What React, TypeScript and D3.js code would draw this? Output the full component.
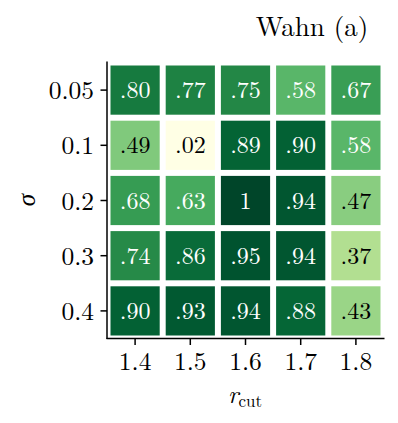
import React from "react";
import * as d3 from "d3";

const rcutLabels = ["1.4", "1.5", "1.6", "1.7", "1.8"];
const sigmaLabels = ["0.05", "0.1", "0.2", "0.3", "0.4"];
const values: number[][] = [
  [0.80, 0.77, 0.75, 0.58, 0.67],
  [0.49, 0.02, 0.89, 0.90, 0.58],
  [0.68, 0.63, 1.0, 0.94, 0.47],
  [0.74, 0.86, 0.95, 0.94, 0.37],
  [0.90, 0.93, 0.94, 0.88, 0.43],
];
const title = "Wahn (a)";

const W = 398;
const H = 423;
const FONT = "'Latin Modern Roman', 'CMU Serif', 'Liberation Serif', serif";

function fmt(v: number): string {
  if (v >= 1) return "1";
  return d3.format(".2f")(v).replace(/^0/, "");
}

export default function App() {
  const x = d3.scaleBand<string>().domain(rcutLabels).range([107.5, 383.5]);
  const y = d3.scaleBand<string>().domain(sigmaLabels).range([62.5, 338.5]);
  const flat = values.flat();
  const color = d3
    .scaleSequential(d3.interpolateYlGn)
    .domain([d3.min(flat) as number, d3.max(flat) as number]);
  const inset = 3;
  const bw = x.bandwidth();
  const bh = y.bandwidth();
  return (
    <svg
      width={W}
      height={H}
      style={{ position: "absolute", left: 0, top: 0, background: "#fff" }}
      fontFamily={FONT}
    >
      <rect width={W} height={H} fill="#fff" />
      {sigmaLabels.map((s, i) =>
        rcutLabels.map((r, j) => {
          const v = values[i][j];
          const cx = (x(r) as number) + bw / 2;
          const cy = (y(s) as number) + bh / 2;
          return (
            <g key={s + r}>
              <rect
                x={(x(r) as number) + inset}
                y={(y(s) as number) + inset}
                width={bw - 2 * inset}
                height={bh - 2 * inset}
                fill={color(v)}
              />
              <text
                x={cx}
                y={cy + 8}
                textAnchor="middle"
                fontSize={24}
                fill={v > 0.5 ? "#fff" : "#000"}
              >
                {fmt(v)}
              </text>
            </g>
          );
        })
      )}
      {/* spines */}
      <line x1={107} x2={107} y1={61.5} y2={339} stroke="#000" strokeWidth={1.5} />
      <line x1={106.5} x2={384.5} y1={338.5} y2={338.5} stroke="#000" strokeWidth={1.5} />
      {/* y ticks */}
      {sigmaLabels.map((s) => {
        const cy = (y(s) as number) + bh / 2;
        return (
          <g key={"yt" + s}>
            <line x1={100.5} x2={107} y1={cy} y2={cy} stroke="#000" strokeWidth={1.5} />
            <text x={94} y={cy + 9} textAnchor="end" fontSize={25.5} fill="#000">
              {s}
            </text>
          </g>
        );
      })}
      {/* x ticks */}
      {rcutLabels.map((r) => {
        const cx = (x(r) as number) + bw / 2;
        return (
          <g key={"xt" + r}>
            <line x1={cx} x2={cx} y1={338.5} y2={345} stroke="#000" strokeWidth={1.5} />
            <text x={cx} y={370} textAnchor="middle" fontSize={25.5} fill="#000">
              {r}
            </text>
          </g>
        );
      })}
      {/* axis labels */}
      <text x={245} y={403} textAnchor="middle" fontSize={25} fill="#000">
        <tspan fontStyle="italic">r</tspan>
        <tspan fontSize={17} dy={4}>cut</tspan>
      </text>
      <text
        transform="translate(35,200) rotate(-90)"
        textAnchor="middle"
        fontSize={25}
        fontStyle="italic"
        fill="#000"
      >
        σ
      </text>
      <text x={312} y={36} textAnchor="middle" fontSize={27} fill="#000">
        {title}
      </text>
    </svg>
  );
}
